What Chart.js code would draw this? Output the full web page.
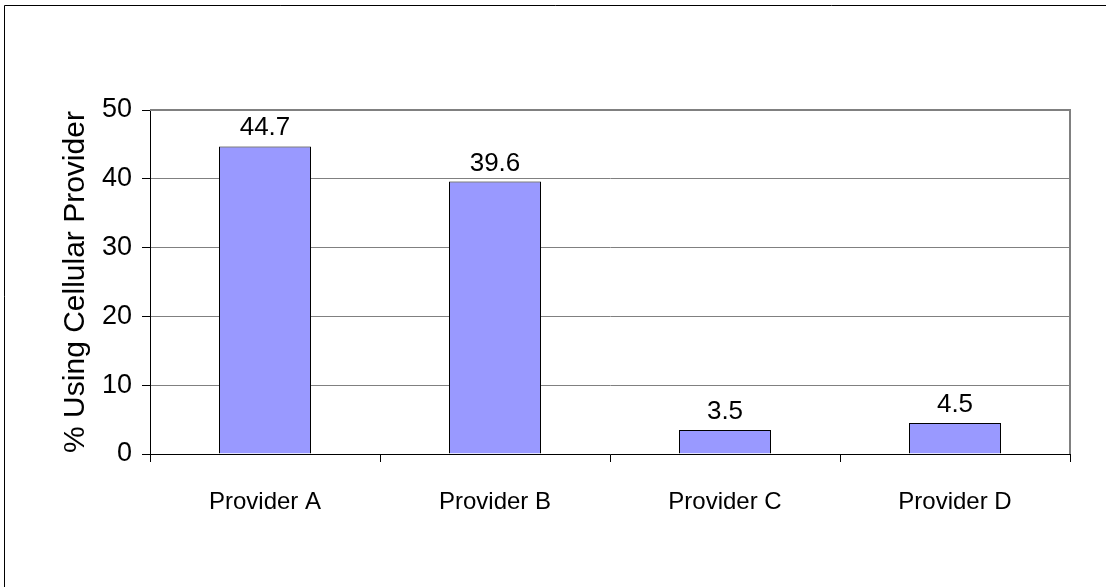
<!DOCTYPE html>
<html>
<head>
<meta charset="utf-8">
<script src="https://cdn.jsdelivr.net/npm/chart.js@4/dist/chart.umd.min.js"></script>
<style>
  html, body { margin: 0; padding: 0; background: #fff; }
  #c { display: block; }
</style>
</head>
<body>
<canvas id="c" width="1106" height="587"></canvas>
<script>
const categories = ['Provider A', 'Provider B', 'Provider C', 'Provider D'];
const usingProvider = [44.7, 39.6, 3.5, 4.5];
const yTicks = [0, 10, 20, 30, 40, 50];
const yTitle = '% Using Cellular Provider';

const FONT = "'Liberation Sans', Arial, sans-serif";

const frame = {
  id: 'frame',
  beforeDraw(chart) {
    const ctx = chart.ctx;
    ctx.save();
    ctx.fillStyle = '#fff';
    ctx.fillRect(0, 0, chart.width, chart.height);
    ctx.strokeStyle = '#000';
    ctx.lineWidth = 1;
    ctx.beginPath();
    ctx.moveTo(4.5, chart.height + 10);
    ctx.lineTo(4.5, 5.5);
    ctx.lineTo(chart.width + 10, 5.5);
    ctx.stroke();
    ctx.restore();
  },
  beforeDatasetsDraw(chart) {
    const a = chart.chartArea;
    const ctx = chart.ctx;
    ctx.save();
    ctx.strokeStyle = '#808080';
    ctx.lineWidth = 2;
    ctx.beginPath();
    ctx.moveTo(a.left, a.top);
    ctx.lineTo(a.right, a.top);
    ctx.lineTo(a.right, a.bottom);
    ctx.stroke();
    ctx.restore();
  },
  afterDatasetsDraw(chart) {
    const ctx = chart.ctx;
    const meta = chart.getDatasetMeta(0);
    ctx.save();
    ctx.font = '26px ' + FONT;
    ctx.fillStyle = '#000';
    ctx.textAlign = 'center';
    ctx.textBaseline = 'alphabetic';
    meta.data.forEach((bar, i) => {
      ctx.fillText(usingProvider[i].toFixed(1), bar.x, bar.y - 11);
    });
    ctx.restore();
  }
};

new Chart(document.getElementById('c'), {
  type: 'bar',
  data: {
    labels: categories,
    datasets: [{
      data: usingProvider,
      backgroundColor: '#9999FF',
      borderColor: '#000',
      borderWidth: 1,
      barPercentage: 0.4,
      categoryPercentage: 1.0
    }]
  },
  options: {
    responsive: false,
    animation: false,
    devicePixelRatio: 1,
    layout: { padding: { top: 110, right: 36, left: 0, bottom: 0 } },
    plugins: { legend: { display: false }, tooltip: { enabled: false } },
    scales: {
      x: {
        type: 'category',
        afterFit(s) { s.height = 133; },
        grid: {
          offset: true,
          drawOnChartArea: false,
          drawTicks: true,
          tickLength: 8,
          tickColor: '#000'
        },
        border: { display: true, color: '#000', width: 1 },
        ticks: {
          color: '#000',
          padding: 26,
          maxRotation: 0,
          font: { family: FONT, size: 24 }
        }
      },
      y: {
        min: 0,
        max: 50,
        afterFit(s) { s.width = 150; },
        afterBuildTicks(s) { s.ticks = yTicks.map(v => ({ value: v })); },
        grid: {
          color: '#808080',
          lineWidth: 1,
          drawTicks: true,
          tickLength: 8,
          tickColor: '#000'
        },
        border: { display: true, color: '#000', width: 1 },
        ticks: {
          color: '#000',
          padding: 10,
          font: { family: FONT, size: 27 }
        },
        title: {
          display: true,
          text: yTitle,
          color: '#000',
          font: { family: FONT, size: 30 },
          padding: { top: 58, bottom: 0 }
        }
      }
    }
  },
  plugins: [frame]
});
</script>
</body>
</html>
